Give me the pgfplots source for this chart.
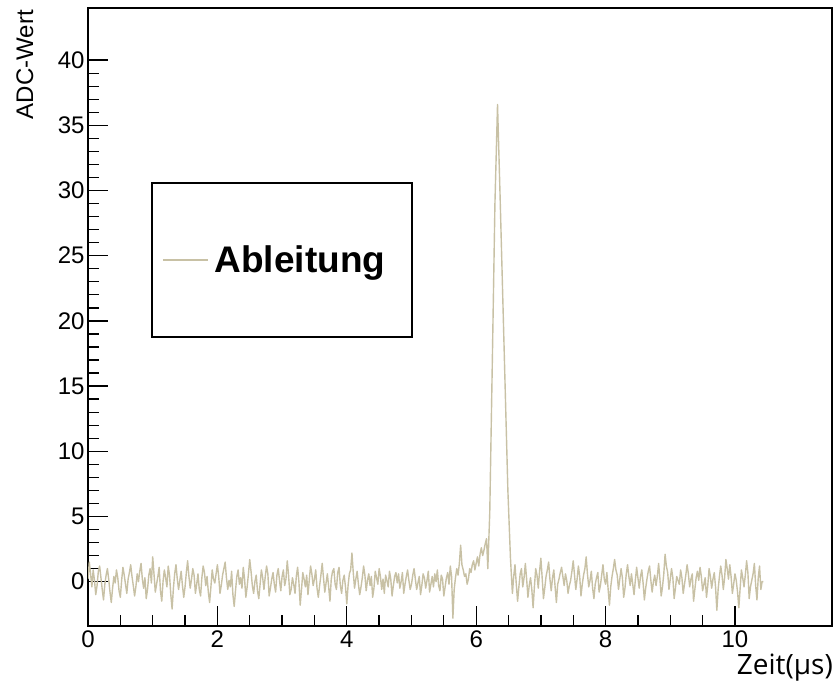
\documentclass[border=0pt]{standalone}
\usepackage{fontspec}
\setmainfont{Liberation Sans}
\newfontfamily\opensans{Open Sans}
\usepackage{pgfplots}
\pgfplotsset{compat=1.18}
\definecolor{abl}{RGB}{200,193,165}
\begin{document}
\begin{tikzpicture}
\useasboundingbox (0,0) rectangle (836pt,684pt);
\begin{axis}[
  at={(88pt,58pt)}, anchor=south west,
  scale only axis, width=744pt, height=618pt,
  xmin=0, xmax=11.5, ymin=-3.4, ymax=44,
  xtick={0,2,4,6,8,10}, minor x tick num=3,
  ytick={0,5,10,15,20,25,30,35,40}, minor y tick num=4,
  xtick pos=left, ytick pos=left,
  tick align=inside,
  major tick length=20pt, minor tick length=11pt,
  every tick/.style={black, line width=1.3pt},
  axis line style={line width=1.5pt},
  /pgf/number format/assume math mode=true,
  tick label style={font=\fontsize{24}{28}\selectfont},
  xticklabel style={yshift=-1pt},
  legend style={draw=none, fill=none, at={(0.0995,0.592)}, anchor=west,
    inner sep=0pt, column sep=4pt, font=\fontsize{37}{44}\selectfont\bfseries},
  legend cell align=left,
  legend image code/.code={\draw[#1] (0pt,0pt) -- (45pt,0pt);},
]
\addplot[abl, line width=1.4pt, line join=round] coordinates {
(0.00,0.2) (0.02,1.5) (0.04,0.6) (0.06,-0.4) (0.08,0.9) (0.10,0.1) (0.12,-1.0) (0.14,-0.3) (0.16,0.8) (0.18,1.2)
(0.20,0.3) (0.22,-0.6) (0.24,-1.4) (0.26,-0.2) (0.28,0.5) (0.30,1.0) (0.32,0.2) (0.34,-0.8) (0.36,-1.6) (0.38,-0.5)
(0.40,0.4) (0.42,-0.1) (0.44,0.9) (0.46,0.3) (0.48,-0.7) (0.50,-1.2) (0.52,0.1) (0.54,1.1) (0.56,0.5) (0.58,-0.2)
(0.60,-0.9) (0.62,0.2) (0.64,0.7) (0.66,1.3) (0.68,0.4) (0.70,-0.3) (0.72,-1.1) (0.74,-0.4) (0.76,0.6) (0.78,0.0)
(0.80,0.8) (0.82,1.4) (0.84,0.2) (0.86,-0.5) (0.88,0.3) (0.90,-1.3) (0.92,-0.6) (0.94,0.5) (0.96,1.0) (0.98,-0.1)
(1.00,1.9) (1.02,0.6) (1.04,-0.8) (1.06,-0.2) (1.08,0.4) (1.10,1.1) (1.12,-0.7) (1.14,-1.5) (1.16,0.0) (1.18,0.9)
(1.20,0.3) (1.22,-0.4) (1.24,1.2) (1.26,0.5) (1.28,-1.0) (1.30,-2.1) (1.32,-0.5) (1.34,0.6) (1.36,1.3) (1.38,0.2)
(1.40,-0.6) (1.42,0.1) (1.44,0.8) (1.46,-0.3) (1.48,-1.2) (1.50,-0.4) (1.52,0.7) (1.54,1.6) (1.56,0.4) (1.58,-0.5)
(1.60,0.2) (1.62,1.0) (1.64,0.5) (1.66,-0.9) (1.68,-0.2) (1.70,0.6) (1.72,-0.6) (1.74,-1.1) (1.76,0.3) (1.78,1.2)
(1.80,0.7) (1.82,-0.3) (1.84,0.4) (1.86,-0.8) (1.88,-1.6) (1.90,-0.4) (1.92,0.9) (1.94,0.2) (1.96,-0.1) (1.98,0.6)
(2.00,1.3) (2.02,0.4) (2.04,-0.9) (2.06,-0.3) (2.08,0.5) (2.10,1.0) (2.12,1.5) (2.14,0.3) (2.16,-0.6) (2.18,0.1)
(2.20,-0.4) (2.22,0.8) (2.24,-1.0) (2.26,-1.9) (2.28,-0.7) (2.30,0.4) (2.32,0.9) (2.34,-0.2) (2.36,0.3) (2.38,-0.5)
(2.40,1.1) (2.42,0.2) (2.44,-1.2) (2.46,-0.4) (2.48,0.6) (2.50,1.7) (2.52,0.8) (2.54,-0.3) (2.56,-0.9) (2.58,0.0)
(2.60,0.5) (2.62,-0.7) (2.64,-1.3) (2.66,-0.2) (2.68,0.9) (2.70,0.3) (2.72,-0.6) (2.74,0.4) (2.76,1.2) (2.78,0.6)
(2.80,-1.1) (2.82,-0.5) (2.84,0.2) (2.86,0.7) (2.88,-0.2) (2.90,-0.8) (2.92,0.5) (2.94,1.0) (2.96,0.1) (2.98,-0.7)
(3.00,0.4) (3.02,0.9) (3.04,-0.3) (3.06,0.2) (3.08,1.6) (3.10,0.5) (3.12,-1.0) (3.14,-0.6) (3.16,0.3) (3.18,-0.2)
(3.20,-0.9) (3.22,0.4) (3.24,1.1) (3.26,0.0) (3.28,-1.8) (3.30,-0.6) (3.32,0.7) (3.34,0.2) (3.36,-0.4) (3.38,0.5)
(3.40,-1.0) (3.42,0.1) (3.44,1.2) (3.46,0.6) (3.48,-0.3) (3.50,0.2) (3.52,0.9) (3.54,-0.5) (3.56,-1.2) (3.58,-0.3)
(3.60,0.5) (3.62,1.4) (3.64,0.3) (3.66,-0.8) (3.68,-0.1) (3.70,0.6) (3.72,-0.4) (3.74,-1.5) (3.76,0.2) (3.78,0.8)
(3.80,1.0) (3.82,-0.2) (3.84,-0.6) (3.86,0.7) (3.88,1.1) (3.90,-0.3) (3.92,-0.9) (3.94,0.1) (3.96,0.5) (3.98,-0.4)
(4.00,-1.7) (4.02,-0.3) (4.04,0.6) (4.06,0.9) (4.08,2.2) (4.10,0.7) (4.12,-0.5) (4.14,0.2) (4.16,0.8) (4.18,-0.2)
(4.20,-1.0) (4.22,-0.4) (4.24,0.3) (4.26,1.2) (4.28,0.5) (4.30,-0.7) (4.32,0.1) (4.34,0.6) (4.36,-0.3) (4.38,0.4)
(4.40,-1.2) (4.42,-0.5) (4.44,0.8) (4.46,0.3) (4.48,-0.2) (4.50,1.0) (4.52,0.4) (4.54,-0.6) (4.56,0.2) (4.58,-0.9)
(4.60,0.5) (4.62,0.1) (4.64,-0.4) (4.66,0.8) (4.68,0.2) (4.70,-1.1) (4.72,-0.3) (4.74,0.4) (4.76,0.7) (4.78,-0.1)
(4.80,0.6) (4.82,-0.5) (4.84,0.0) (4.86,0.7) (4.88,-0.9) (4.90,-0.2) (4.92,0.4) (4.94,0.9) (4.96,0.1) (4.98,-0.6)
(5.00,-0.2) (5.02,0.5) (5.04,1.0) (5.06,0.2) (5.08,-0.6) (5.10,-0.1) (5.12,0.4) (5.14,-1.0) (5.16,-0.3) (5.18,0.6)
(5.20,0.3) (5.22,-0.5) (5.24,0.1) (5.26,0.8) (5.28,-0.8) (5.30,-0.2) (5.32,0.4) (5.34,-0.4) (5.36,0.6) (5.38,0.0)
(5.40,0.9) (5.42,-0.3) (5.44,-0.7) (5.46,0.5) (5.48,0.2) (5.50,-1.1) (5.52,-0.4) (5.54,0.3) (5.56,0.7) (5.58,-0.2)
(5.60,1.2) (5.62,0.4) (5.64,-2.8) (5.66,-0.6) (5.68,0.3) (5.70,1.0) (5.72,0.5) (5.74,1.4) (5.76,2.8) (5.78,1.3)
(5.80,0.9) (5.82,0.4) (5.84,0.6) (5.86,-0.2) (5.88,0.2) (5.90,1.0) (5.92,0.7) (5.94,1.3) (5.96,1.6) (5.98,0.9)
(6.00,1.4) (6.02,1.9) (6.04,1.2) (6.06,2.1) (6.08,2.6) (6.10,2.0) (6.12,2.4) (6.14,2.9) (6.16,3.3) (6.18,1.0)
(6.21,5.3) (6.25,17.0) (6.29,29.0) (6.33,36.6) (6.37,29.5) (6.41,22.0) (6.45,14.5) (6.49,7.0) (6.53,1.8)
(6.56,-0.9) (6.58,0.4) (6.60,1.3) (6.62,-0.2) (6.64,-1.5) (6.66,-0.4) (6.68,0.6) (6.70,1.0) (6.72,-0.4) (6.74,0.3)
(6.76,1.4) (6.78,0.2) (6.80,-1.2) (6.82,-0.3) (6.84,0.3) (6.86,-0.6) (6.88,-2.0) (6.90,-0.4) (6.92,1.0) (6.94,0.5)
(6.96,-0.5) (6.98,0.8) (7.00,1.8) (7.02,0.3) (7.04,-1.3) (7.06,-0.5) (7.08,0.4) (7.10,0.9) (7.12,1.5) (7.14,0.2)
(7.16,-0.7) (7.18,0.3) (7.20,0.9) (7.22,-0.4) (7.24,-1.6) (7.26,-0.2) (7.28,0.2) (7.30,0.7) (7.32,1.1) (7.34,0.4)
(7.36,-0.3) (7.38,0.6) (7.40,0.1) (7.42,-0.9) (7.44,-0.3) (7.46,0.1) (7.48,0.8) (7.50,1.6) (7.52,0.5) (7.54,-0.6)
(7.56,0.2) (7.58,1.2) (7.60,0.4) (7.62,-1.1) (7.64,-0.2) (7.66,0.5) (7.68,1.0) (7.70,1.9) (7.72,0.6) (7.74,-0.4)
(7.76,0.1) (7.78,0.8) (7.80,-0.5) (7.82,-1.3) (7.84,-0.2) (7.86,0.3) (7.88,0.7) (7.90,-0.8) (7.92,-0.3) (7.94,0.5)
(7.96,1.3) (7.98,0.2) (8.00,-0.2) (8.02,0.7) (8.04,-0.6) (8.06,-1.8) (8.08,-0.4) (8.10,0.4) (8.12,1.0) (8.14,1.7)
(8.16,0.9) (8.18,0.5) (8.20,-0.6) (8.22,0.2) (8.24,1.0) (8.26,0.3) (8.28,-1.2) (8.30,-0.5) (8.32,0.6) (8.34,1.3)
(8.36,0.4) (8.38,-0.3) (8.40,0.6) (8.42,-0.2) (8.44,-1.0) (8.46,0.1) (8.48,1.1) (8.50,0.3) (8.52,-0.5) (8.54,0.4)
(8.56,0.9) (8.58,-0.1) (8.60,-1.4) (8.62,-0.5) (8.64,0.2) (8.66,0.8) (8.68,1.2) (8.70,0.1) (8.72,-0.8) (8.74,0.0)
(8.76,0.5) (8.78,-0.3) (8.80,0.4) (8.82,1.4) (8.84,0.2) (8.86,-1.1) (8.88,-0.4) (8.90,0.6) (8.92,2.1) (8.94,1.2)
(8.96,0.7) (8.98,-0.6) (9.00,0.2) (9.02,1.0) (9.04,0.3) (9.06,-1.3) (9.08,-0.5) (9.10,0.4) (9.12,0.1) (9.14,-0.2)
(9.16,0.9) (9.18,0.3) (9.20,-0.9) (9.22,-0.2) (9.24,0.5) (9.26,1.3) (9.28,0.6) (9.30,-0.4) (9.32,0.2) (9.34,0.6)
(9.36,-1.5) (9.38,-0.6) (9.40,0.3) (9.42,0.8) (9.44,0.1) (9.46,1.1) (9.48,0.4) (9.50,-0.7) (9.52,-0.2) (9.54,0.3)
(9.56,-1.2) (9.58,-0.3) (9.60,1.0) (9.62,0.4) (9.64,-0.5) (9.66,0.2) (9.68,0.7) (9.70,-0.4) (9.72,-2.2) (9.74,-0.6)
(9.76,0.4) (9.78,1.2) (9.80,0.5) (9.82,-0.6) (9.84,0.3) (9.86,1.7) (9.88,1.0) (9.90,0.2) (9.92,1.3) (9.94,0.4)
(9.96,-0.9) (9.98,-0.2) (10.00,0.6) (10.02,0.1) (10.04,-0.8) (10.06,-2.0) (10.08,-0.5) (10.10,0.9) (10.12,0.3) (10.14,-0.4)
(10.16,0.5) (10.18,1.6) (10.20,0.7) (10.22,-1.3) (10.24,-0.4) (10.26,0.1) (10.28,0.6) (10.30,1.4) (10.32,-0.3) (10.34,-1.4)
(10.36,0.3) (10.38,1.2) (10.40,-0.6) (10.42,0.0) (10.44,0.0)
};
\addlegendentry{Ableitung}
\draw[line width=1.5pt] (rel axis cs:0.086,0.468) rectangle (rel axis cs:0.4355,0.717);
\end{axis}
\node[rotate=90, anchor=base east, inner sep=0pt, font=\fontsize{24}{28}\selectfont] at (33pt,674pt) {ADC-Wert};
\node[anchor=base east, inner sep=0pt, font=\fontsize{28}{32}\selectfont\opensans] at (833pt,9pt) {Zeit(µs)};
\end{tikzpicture}
\end{document}
